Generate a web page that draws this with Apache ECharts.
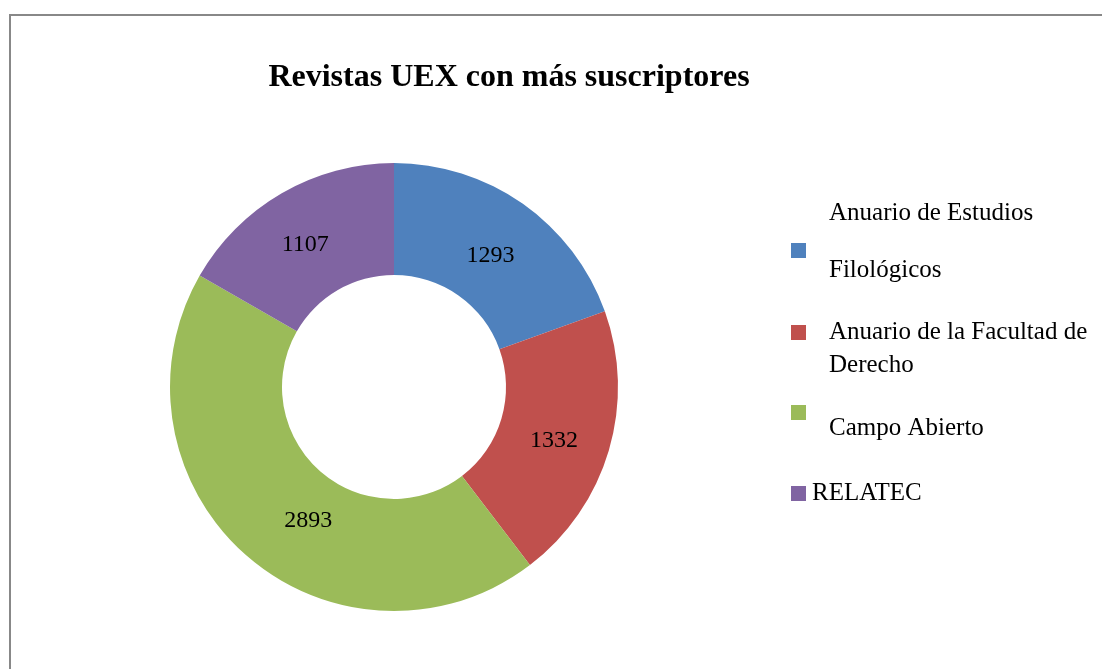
<!DOCTYPE html>
<html>
<head>
<meta charset="utf-8">
<script src="https://cdn.jsdelivr.net/npm/echarts@6/dist/echarts.min.js"></script>
<style>
  html, body { margin: 0; padding: 0; background: #fff; }
  #chart { width: 1102px; height: 669px; }
</style>
</head>
<body>
<div id="chart"></div>
<script>
let revistas = ['Anuario de Estudios\nFilológicos', 'Anuario de la Facultad de\nDerecho', 'Campo Abierto', 'RELATEC'];
let suscriptores = [1293, 1332, 2893, 1107];
let colores = ['#4F81BD', '#C0504D', '#9BBB59', '#8064A2'];

let fuente = '"Liberation Serif", "DejaVu Serif", serif';
let chart = echarts.init(document.getElementById('chart'));

// una leyenda por revista, cada una en su sitio (como la coloca Excel)
let legendPos = [
  { top: 196, gap: 18, fmt: n => n.split('\n').map((s, k) => `{${k ? 'b' : 'a'}|${s}}`).join('\n') },
  { top: 282, gap: 18, fmt: n => '{c|}\n' + n.split('\n').map(s => `{c|${s}}`).join('\n') },
  { top: 379, gap: 18, fmt: n => `{d|}\n{d|${n}}` },
  { top: 476, gap: 1, fmt: n => `{e|${n}}` }
];
let txt = { fontFamily: fuente, fontSize: 25, color: '#000' };
let legends = revistas.map((name, i) => ({
  data: [name],
  left: 786,
  top: legendPos[i].top,
  orient: 'vertical',
  itemWidth: 15,
  itemHeight: 15,
  itemGap: 0,
  icon: 'rect',
  selectedMode: false,
  formatter: legendPos[i].fmt,
  textStyle: {
    ...txt,
    padding: [0, 0, 0, legendPos[i].gap],
    rich: {
      a: { ...txt, lineHeight: 40 },
      b: { ...txt, lineHeight: 74 },
      c: { ...txt, lineHeight: 33 },
      d: { ...txt, lineHeight: 32 },
      e: { ...txt, lineHeight: 30 }
    }
  }
}));

// pequeños ajustes de las etiquetas de valor
let labelOffsets = [[-2, 9], [-4, 5], [27, 5], [-3, 6]];

chart.setOption({
  animation: false,
  color: colores,
  title: {
    text: 'Revistas UEX con más suscriptores',
    left: 504,
    top: 57,
    textAlign: 'center',
    textStyle: { fontFamily: fuente, fontSize: 32, fontWeight: 'bold', color: '#000' }
  },
  legend: legends,
  graphic: [{
    type: 'rect',
    shape: { x: 10, y: 15, width: 1200, height: 800 },
    style: { fill: 'none', stroke: '#888', lineWidth: 2 }
  }],
  series: [{
    type: 'pie',
    center: [394, 387],
    radius: [112, 224],
    startAngle: 90,
    clockwise: true,
    label: {
      show: true,
      position: 'inside',
      formatter: '{c}',
      fontFamily: fuente,
      fontSize: 24,
      color: '#000'
    },
    labelLine: { show: false },
    emphasis: { disabled: true },
    data: revistas.map((name, i) => ({
      name: name,
      value: suscriptores[i],
      label: { offset: labelOffsets[i] }
    }))
  }]
});
</script>
</body>
</html>
